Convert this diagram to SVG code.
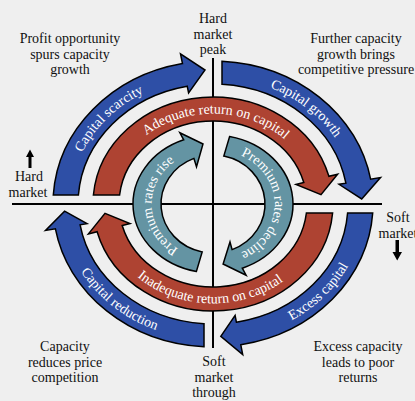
<svg xmlns="http://www.w3.org/2000/svg" xmlns:xlink="http://www.w3.org/1999/xlink" width="415" height="401" viewBox="0 0 415 401">
<style>
.arr{stroke:#000;stroke-width:1.5;stroke-linejoin:miter}
.blue{fill:#2e4fa6}
.red{fill:#ae4332}
.teal{fill:#6494a3}
.lbl{font-family:"Liberation Serif","Times New Roman",serif;font-size:14px;fill:#fff}
.cap{font-family:"Liberation Serif","Times New Roman",serif;font-size:14px;fill:#111;text-anchor:middle}
.axis{stroke:#000;stroke-width:2;fill:none}
</style>
<defs>
<path id="p1" d="M 70.3,195.1 A 143 127 0 0 1 185.7,79.3"/>
<path id="p2" d="M 223,77.3 A 143 127 0 0 1 353.8,182"/>
<path id="p3" d="M 239.4,337.9 A 152 136 0 0 0 364.6,213.5"/>
<path id="p4" d="M 63.3,227.6 A 152 136 0 0 0 202.4,339.7"/>
<path id="p5" d="M 116.7,173 A 102.5 90.5 0 0 1 311.5,179.1"/>
<path id="p6" d="M 104.4,226.4 A 111.5 99.5 0 0 0 319.6,233.1"/>
<path id="p7" d="M 198.1,256.9 A 61.5 54.5 0 0 1 194,152.2"/>
<path id="p8" d="M 227.9,151.1 A 61.5 54.5 0 0 1 227.9,256.9"/>
</defs>
<rect width="415" height="401" fill="#efefef"/>
<g id="axes">
<line class="axis" x1="12" y1="204" x2="382" y2="204"/>
<line class="axis" x1="213" y1="58" x2="213" y2="348"/>
</g>
<g id="connectors">
<g id="capital-scarcity">
<path class="arr blue" d="M 53.3,195 A 160 143 0 0 1 182.5,63.6 L 180.5,53.8 L 205,70 L 188.6,93 L 187.2,86.2 A 135 120 0 0 0 78.4,195 Z"/>
<text class="lbl"><textPath xlink:href="#p1" href="#p1" startOffset="50%" text-anchor="middle">Capital scarcity</textPath></text>
</g>
<g id="capital-growth">
<path class="arr blue" d="M 222,61.2 A 160 143 0 0 1 370.6,179.2 L 380.5,177.6 L 361.7,198.9 L 339,184.3 L 345.9,183.2 A 135 120 0 0 0 222,84.3 Z"/>
<text class="lbl"><textPath xlink:href="#p2" href="#p2" startOffset="50%" text-anchor="middle">Capital growth</textPath></text>
</g>
<g id="excess-capital">
<path class="arr blue" d="M 372.7,213 A 160 143 0 0 1 240.8,344.8 L 242.7,354.6 L 220.8,336.3 L 235.1,315.3 L 236.4,322.2 A 135 120 0 0 0 347.6,213 Z"/>
<text class="lbl"><textPath xlink:href="#p3" href="#p3" startOffset="50%" text-anchor="middle">Excess capital</textPath></text>
</g>
<g id="capital-reduction">
<path class="arr blue" d="M 204,346.8 A 160 143 0 0 1 55.4,228.8 L 45.5,230.4 L 64.6,211.1 L 87,223.7 L 80.1,224.8 A 135 120 0 0 0 204,323.7 Z"/>
<text class="lbl"><textPath xlink:href="#p4" href="#p4" startOffset="50%" text-anchor="middle">Capital reduction</textPath></text>
</g>
<g id="adequate-return">
<path class="arr red" d="M 93.4,195 A 120 107 0 0 1 328.9,176.3 L 337.6,174.2 L 321,194.7 L 296,184.4 L 303.8,182.5 A 94 83 0 0 0 119.6,195 Z"/>
<text class="lbl"><textPath xlink:href="#p5" href="#p5" startOffset="50%" text-anchor="middle">Adequate return on capital</textPath></text>
</g>
<g id="inadequate-return">
<path class="arr red" d="M 332.6,213 A 120 107 0 0 1 97.1,231.7 L 88.4,233.9 L 105,213.3 L 130,223.6 L 122.2,225.5 A 94 83 0 0 0 306.4,213 Z"/>
<text class="lbl"><textPath xlink:href="#p6" href="#p6" startOffset="50%" text-anchor="middle">Inadequate return on capital</textPath></text>
</g>
<g id="premium-rise">
<path class="arr teal" d="M 196.4,271.5 A 80 69 0 0 1 183.7,139.8 L 179.9,132.8 L 203,144 L 196.5,166.8 L 193.9,158.4 A 52 49 0 0 0 202.2,251.9 Z"/>
<text class="lbl"><textPath xlink:href="#p7" href="#p7" startOffset="50%" text-anchor="middle">Premium rates rise</textPath></text>
</g>
<g id="premium-decline">
<path class="arr teal" d="M 229.6,136.5 A 80 69 0 0 1 242.3,268.2 L 246.1,275.2 L 223.1,264 L 230,242 L 232.1,249.6 A 52 49 0 0 0 223.8,156.1 Z"/>
<text class="lbl"><textPath xlink:href="#p8" href="#p8" startOffset="50%" text-anchor="middle">Premium rates decline</textPath></text>
</g>
</g>
<g id="hard-market-peak">
<text class="cap" x="213"><tspan x="213" y="23">Hard</tspan><tspan x="213" y="38.5">market</tspan><tspan x="213" y="54">peak</tspan></text>
</g>
<g id="soft-market-trough">
<text class="cap"><tspan x="214" y="366">Soft</tspan><tspan x="214" y="381.5">market</tspan><tspan x="214" y="397">through</tspan></text>
</g>
<g id="hard-market">
<polygon points="30,149.5 34,157 31.5,157 31.5,168 28.5,168 28.5,157 26,157" fill="#000"/>
<text class="cap"><tspan x="29" y="181">Hard</tspan><tspan x="28" y="196.5">market</tspan></text>
</g>
<g id="soft-market">
<text class="cap"><tspan x="398" y="222">Soft</tspan><tspan x="398" y="237.5">market</tspan></text>
<polygon points="395.5,240 399,240 399,252 402,252 397.2,260.5 392.5,252 395.5,252" fill="#000"/>
</g>
<g id="note-top-left">
<text class="cap"><tspan x="70" y="43">Profit opportunity</tspan><tspan x="70" y="58.5">spurs capacity</tspan><tspan x="70" y="74">growth</tspan></text>
</g>
<g id="note-top-right">
<text class="cap"><tspan x="356" y="43">Further capacity</tspan><tspan x="356" y="58.5">growth brings</tspan><tspan x="356" y="74">competitive pressure</tspan></text>
</g>
<g id="note-bottom-left">
<text class="cap"><tspan x="65" y="351">Capacity</tspan><tspan x="65" y="366.5">reduces price</tspan><tspan x="65" y="382">competition</tspan></text>
</g>
<g id="note-bottom-right">
<text class="cap"><tspan x="358" y="351">Excess capacity</tspan><tspan x="358" y="366.5">leads to poor</tspan><tspan x="358" y="382">returns</tspan></text>
</g>
</svg>
